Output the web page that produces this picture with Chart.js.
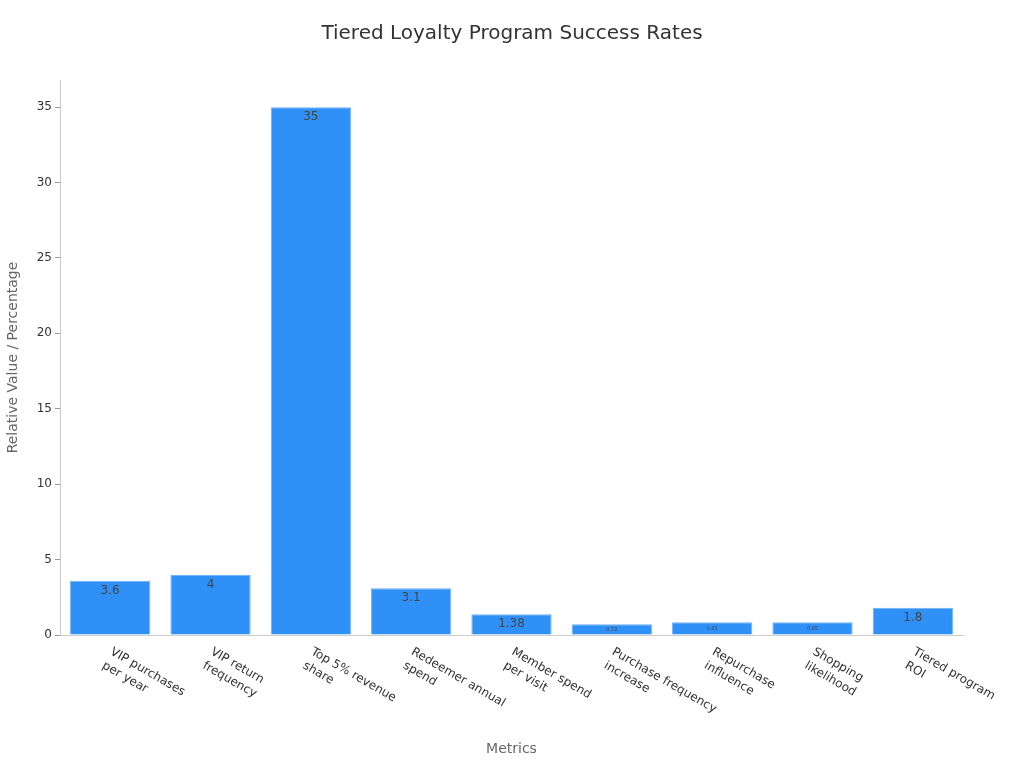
<!DOCTYPE html>
<html>
<head>
<meta charset="utf-8">
<script src="https://cdn.jsdelivr.net/npm/chart.js@4.4.0/dist/chart.umd.min.js"></script>
<style>
  html, body { margin: 0; padding: 0; background: #fff; }
  #wrap { width: 1024px; height: 768px; }
</style>
</head>
<body>
<div id="wrap"><canvas id="loyaltyChart" width="1024" height="768"></canvas></div>
<script>
// Tiered loyalty program metrics
const chartTitle = 'Tiered Loyalty Program Success Rates';
const categories = [
  ['VIP purchases', 'per year'],
  ['VIP return', 'frequency'],
  ['Top 5% revenue', 'share'],
  ['Redeemer annual', 'spend'],
  ['Member spend', 'per visit'],
  ['Purchase frequency', 'increase'],
  ['Repurchase', 'influence'],
  ['Shopping', 'likelihood'],
  ['Tiered program', 'ROI']
];
const values = [3.6, 4, 35, 3.1, 1.38, 0.72, 0.85, 0.85, 1.8];
const yTicks = [0, 5, 10, 15, 20, 25, 30, 35];

const FONT = '"DejaVu Sans", "Noto Sans", sans-serif';

// title centred on the whole canvas
const pageTitle = {
  id: 'pageTitle',
  afterDraw(chart) {
    const ctx = chart.ctx;
    ctx.save();
    ctx.fillStyle = '#333';
    ctx.font = '20px ' + FONT;
    ctx.textAlign = 'center';
    ctx.textBaseline = 'middle';
    ctx.fillText(chartTitle, chart.width / 2, 34);
    ctx.restore();
  }
};

// value labels drawn inside each bar
const barLabels = {
  id: 'barLabels',
  afterDatasetsDraw(chart) {
    const ctx = chart.ctx;
    const meta = chart.getDatasetMeta(0);
    ctx.save();
    ctx.fillStyle = '#444';
    ctx.textAlign = 'center';
    ctx.textBaseline = 'middle';
    meta.data.forEach((bar, i) => {
      const h = bar.base - bar.y;
      let size = 12, y = bar.y + 10;
      if (h < 16) { size = 5; y = bar.y + h / 2; }
      ctx.font = size + 'px ' + FONT;
      ctx.fillText(String(values[i]), bar.x, y);
    });
    ctx.restore();
  }
};

// x labels slanted downward to the right
const slantLabels = {
  id: 'slantLabels',
  afterDraw(chart) {
    const ctx = chart.ctx;
    const xs = chart.scales.x;
    ctx.save();
    ctx.fillStyle = '#333';
    ctx.font = '12px ' + FONT;
    ctx.textAlign = 'left';
    ctx.textBaseline = 'middle';
    categories.forEach((lines, i) => {
      const x = xs.getPixelForTick(i);
      ctx.save();
      ctx.translate(x + 1, xs.top + 16);
      ctx.rotate(Math.PI / 6);
      lines.forEach((line, j) => {
        ctx.fillText(line, 0, j * 16);
      });
      ctx.restore();
    });
    ctx.restore();
  }
};

new Chart(document.getElementById('loyaltyChart').getContext('2d'), {
  type: 'bar',
  data: {
    labels: categories,
    datasets: [{
      data: values,
      backgroundColor: '#2f91f8',
      borderColor: '#6fb2f5',
      borderWidth: 1,
      barPercentage: 0.8,
      categoryPercentage: 1
    }]
  },
  options: {
    responsive: false,
    animation: false,
    layout: { padding: { top: 80, right: 61, bottom: 0, left: 0 } },
    plugins: {
      legend: { display: false },
      tooltip: { enabled: false }
    },
    scales: {
      x: {
        grid: { display: false },
        border: { color: '#ccc' },
        ticks: { display: false },
        title: {
          display: true,
          text: 'Metrics',
          color: '#666',
          font: { family: FONT, size: 14 },
          padding: { top: 4, bottom: 10 }
        },
        afterFit(scale) { scale.height = 133; }
      },
      y: {
        min: 0,
        max: 36.8,
        grid: { display: true, drawOnChartArea: false, tickLength: 5, color: '#999' },
        border: { color: '#ccc' },
        afterBuildTicks(scale) { scale.ticks = yTicks.map(v => ({ value: v })); },
        ticks: {
          color: '#333',
          padding: 3,
          font: { family: FONT, size: 12 }
        },
        title: {
          display: true,
          text: 'Relative Value / Percentage',
          color: '#666',
          font: { family: FONT, size: 14 },
          padding: { top: 5, bottom: 6 }
        },
        afterFit(scale) { scale.width = 60; }
      }
    }
  },
  plugins: [pageTitle, barLabels, slantLabels]
});
</script>
</body>
</html>
